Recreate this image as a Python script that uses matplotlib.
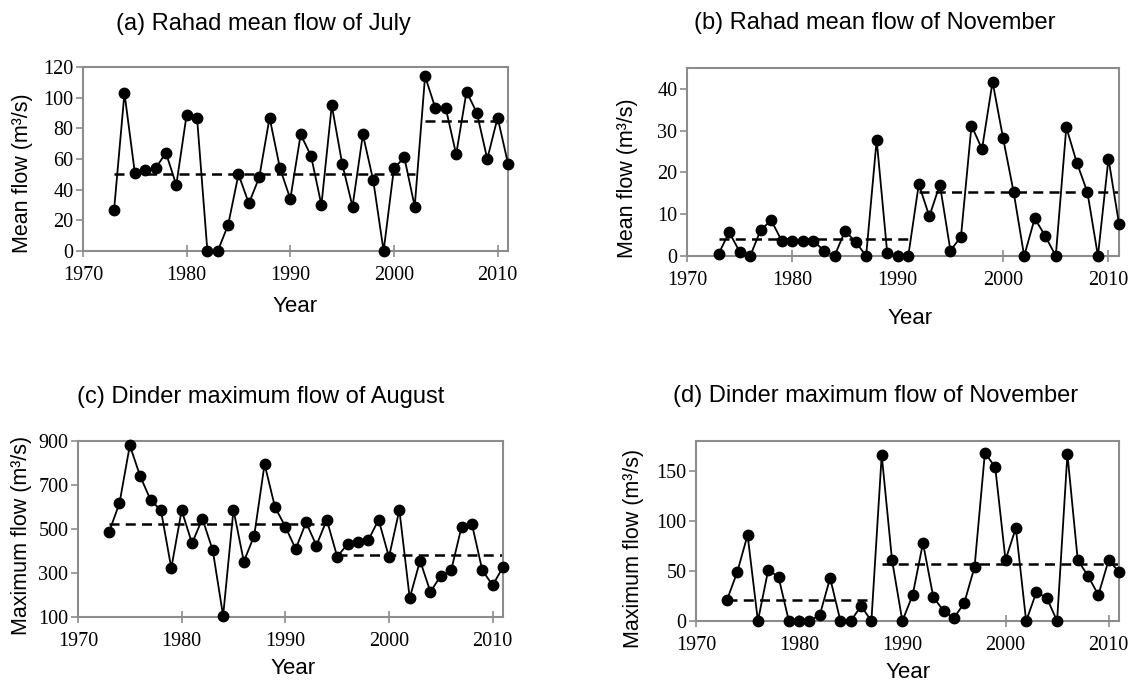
import matplotlib
matplotlib.use("Agg")
from matplotlib import pyplot as plt

years = list(range(1973, 2012))

# (a) Rahad mean flow of July
rahad_jul = [27, 103, 51, 53, 54, 64, 43, 89, 87, 0, 0, 17, 50, 31, 48, 87, 54, 34, 76, 62,
             30, 95, 57, 29, 76, 46, 0, 54, 61, 29, 114, 93, 93, 63, 104, 90, 60, 87, 57]
rahad_jul_means = [(1973, 2002, 50), (2003, 2011, 84.5)]

# (b) Rahad mean flow of November
rahad_nov = [0.5, 5.7, 1, 0, 6.3, 8.5, 3.6, 3.6, 3.5, 3.6, 1.3, 0, 6, 3.4, 0, 27.8, 0.8, 0, 0, 17.2,
             9.5, 17.1, 1.3, 4.6, 31.2, 25.6, 41.7, 28.2, 15.3, 0, 9, 4.8, 0, 30.8, 22.3, 15.3, 0, 23.3, 7.7]
rahad_nov_means = [(1973, 1991, 4), (1992, 2011, 15.3)]

# (c) Dinder maximum flow of August
dinder_aug = [487, 617, 880, 740, 632, 585, 322, 585, 435, 547, 403, 105, 587, 352, 470, 795, 600, 511, 409, 530,
              425, 542, 375, 430, 439, 449, 542, 372, 587, 186, 356, 214, 288, 312, 510, 523, 313, 244, 327]
dinder_aug_means = [(1973, 1994, 525), (1995, 2011, 380)]

# (d) Dinder maximum flow of November
dinder_nov = [21, 49, 86, 0, 51, 44, 0, 0, 0, 6, 43, 0, 0, 15, 0, 166, 61, 0, 26, 78,
              24, 10, 3, 18, 54, 168, 154, 61, 93, 0, 29, 23, 0, 167, 61, 45, 26, 61, 49]
dinder_nov_means = [(1973, 1987, 20.6), (1988, 2011, 57.5)]

W, H = 1131, 686
fig = plt.figure(figsize=(W / 100, H / 100), dpi=100)

panels = [
    # data, means, rect (l, r, t, b), ylim, yticks, title, title pos, ylabel, ylabel pos, year pos
    (rahad_jul, rahad_jul_means, (83, 508, 67, 251), (0, 120), range(0, 121, 20),
     '(a) Rahad mean flow of July', (263, 24), 'Mean flow (m³/s)', (23, 173), (295, 307)),
    (rahad_nov, rahad_nov_means, (687, 1119, 68, 256), (0, 45), range(0, 41, 10),
     '(b) Rahad mean flow of November', (875, 23), 'Mean flow (m³/s)', (628, 178), (910, 318)),
    (dinder_aug, dinder_aug_means, (78, 503, 441, 617), (100, 900), range(100, 901, 200),
     '(c) Dinder maximum flow of August', (261, 397), 'Maximum flow (m³/s)', (22, 535), (293, 669)),
    (dinder_nov, dinder_nov_means, (696, 1119, 441, 621), (0, 180), range(0, 151, 50),
     '(d) Dinder maximum flow of November', (876, 396), 'Maximum flow (m³/s)', (633, 548), (908, 673)),
]

sans = 'Liberation Sans'
serif = 'Liberation Serif'
grey = '#8c8c8c'

for data, means, (l, r, t, b), ylim, yticks, title, tpos, ylab, ypos, xpos in panels:
    ax = fig.add_axes([l / W, 1 - b / H, (r - l) / W, (b - t) / H])
    ax.plot(years, data, color='black', lw=1.3, marker='o', markersize=7.5, zorder=3, clip_on=False)
    for x0, x1, m in means:
        ax.plot([x0, x1], [m, m], color='black', lw=1.8, ls=(0, (4, 2.5)), zorder=2)
    ax.set_xlim(1970, 2011)
    ax.set_ylim(*ylim)
    ax.set_xticks([1970, 1980, 1990, 2000, 2010])
    ax.set_yticks(list(yticks))
    for s in ax.spines.values():
        s.set_color(grey)
        s.set_linewidth(1.5)
    ax.tick_params(axis='x', direction='inout', length=8, width=1.2, color=grey, pad=7)
    ax.tick_params(axis='y', direction='out', length=5, width=1.2, color=grey, pad=2)
    for lab in ax.get_xticklabels() + ax.get_yticklabels():
        lab.set_fontfamily(serif)
        lab.set_fontsize(14.5)
    fig.text(tpos[0] / W, 1 - tpos[1] / H, title, ha='center', va='center',
             fontsize=17, family=sans)
    fig.text(ypos[0] / W, 1 - ypos[1] / H, ylab, ha='center', va='center',
             rotation=90, fontsize=15.5, family=sans)
    fig.text(xpos[0] / W, 1 - xpos[1] / H, 'Year', ha='center', va='center',
             fontsize=16, family=sans)

fig.savefig('out.png', dpi=100)
